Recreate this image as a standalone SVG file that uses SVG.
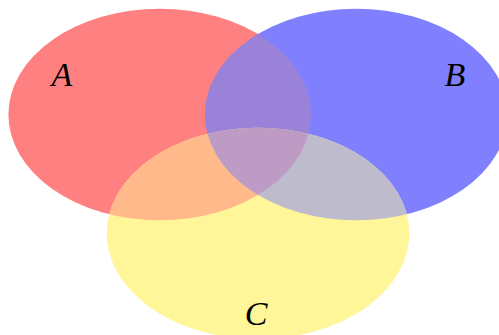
<svg xmlns="http://www.w3.org/2000/svg" width="499" height="335" viewBox="0 0 499 335">
  <style>
    .lbl { font-family: "Liberation Serif", "DejaVu Serif", serif; font-style: italic; font-size: 34px; fill: #000; text-anchor: middle; }
  </style>
  <defs>
    <ellipse id="eA" cx="159.7" cy="114.5" rx="151.3" ry="105.7"/>
    <ellipse id="eB" cx="356.3" cy="114.5" rx="151.3" ry="105.7"/>
    <ellipse id="eC" cx="258" cy="233.4" rx="151.3" ry="105.7"/>
    <clipPath id="cA"><use href="#eA"/></clipPath>
    <clipPath id="cB"><use href="#eB"/></clipPath>
  </defs>
  <rect width="499" height="335" fill="#fff"/>
  <g id="setA"><use href="#eA" fill="#ff8080"/></g>
  <g id="setB"><use href="#eB" fill="#8080ff"/></g>
  <g id="setC"><use href="#eC" fill="#fff599"/></g>
  <g id="overlaps">
    <use href="#eB" fill="#9b82d9" clip-path="url(#cA)"/>
    <use href="#eC" fill="#ffb98b" clip-path="url(#cA)"/>
    <use href="#eC" fill="#bebbcd" clip-path="url(#cB)"/>
    <g clip-path="url(#cB)"><use href="#eC" fill="#be9bc5" clip-path="url(#cA)"/></g>
  </g>
  <g id="labels">
    <text class="lbl" x="62" y="86">A</text>
    <text class="lbl" x="455" y="86">B</text>
    <text class="lbl" x="256" y="325">C</text>
  </g>
</svg>
